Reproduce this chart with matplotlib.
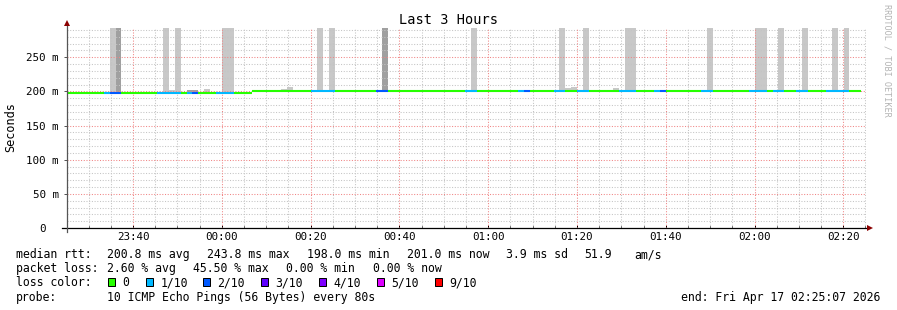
import matplotlib
matplotlib.use("Agg")
import matplotlib.pyplot as plt
import numpy as np
from matplotlib.patches import Rectangle
from matplotlib.lines import Line2D
from matplotlib.transforms import ScaledTranslation

# ---------------- data ----------------
START_LABEL = "23:25:07"          # left edge of the 3 hour window
WINDOW_MIN = 180
STEP_MIN = 80 / 60                # 80 s RRD step
FIRST_STEP_MIN = 8.27 - 7 * STEP_MIN   # start of first (partial) step, minutes after window start

# median rtt per 80 s step (ms)
median_ms = [
    198.3, 198.3, 198.3, 198.3, 198.3, 198.3, 198.3, 198.3, 198.3, 198.3, 198.3, 198.3, 198.3, 198.3, 198.3,
    198.0, 198.0, 198.0, 198.0, 198.0, 198.3, 198.3, 198.0, 198.0, 198.0, 198.0, 198.0, 198.0, 198.0, 198.0,
    198.0, 198.0, 201.0, 201.0, 201.0, 201.0, 201.0, 201.0, 201.0, 201.0, 201.0, 201.0, 201.0, 201.0, 201.0,
    201.0, 201.0, 201.0, 201.0, 201.0, 201.0, 201.0, 201.0, 201.0, 201.0, 201.0, 201.0, 201.0, 201.0, 201.0,
    201.0, 201.0, 201.0, 201.0, 201.0, 201.0, 201.0, 201.0, 201.0, 201.0, 201.0, 201.0, 201.0, 201.0, 201.0,
    201.0, 201.0, 201.0, 201.0, 201.0, 201.0, 201.0, 201.0, 201.0, 201.0, 201.0, 201.0, 201.0, 201.0, 201.0,
    201.0, 201.0, 201.0, 201.0, 201.0, 201.0, 201.0, 201.0, 201.0, 201.0, 201.0, 201.0, 201.0, 201.0, 201.0,
    201.0, 201.0, 201.0, 201.0, 201.0, 201.0, 201.0, 201.0, 201.0, 201.0, 201.0, 201.0, 201.0, 201.0, 201.0,
    201.0, 201.0, 201.0, 201.0, 201.0, 201.0, 201.0, 201.0, 201.0, 201.0, 201.0, 201.0, 201.0, 201.0, 201.0,
]

# loss (tenths) colouring the median line per step
loss_tenths = [
    0, 0, 0, 0, 0, 0, 0, 1, 2, 2, 0, 0, 0, 0, 0,
    0, 1, 1, 1, 1, 0, 1, 2, 0, 0, 0, 1, 1, 1, 0,
    0, 0, 0, 0, 0, 0, 0, 0, 0, 0, 0, 0, 1, 1, 1,
    1, 0, 0, 0, 0, 0, 0, 0, 2, 2, 0, 0, 0, 0, 0,
    0, 0, 0, 0, 0, 0, 0, 0, 1, 1, 0, 0, 0, 0, 0,
    0, 0, 1, 2, 0, 0, 0, 0, 1, 1, 0, 0, 1, 1, 0,
    0, 0, 0, 0, 1, 1, 1, 0, 0, 0, 1, 2, 0, 0, 0,
    0, 0, 0, 1, 1, 0, 0, 0, 0, 0, 0, 1, 1, 1, 0,
    1, 1, 0, 0, 1, 1, 0, 0, 0, 1, 1, 1, 1, 0, 0,
]

# smoke (ping spread) visible above the median: step index, top value (ms), grey level
smoke_step = [8, 9, 17, 18, 19, 21, 22, 24, 27, 28,
              37, 38, 43, 45, 54, 69, 84, 85, 86, 88,
              93, 95, 96, 109, 117, 118, 121, 125, 130, 132]
smoke_top_ms = [400, 400, 400, 202.1, 400, 202.6, 202.6, 204.1, 400, 400,
                204.1, 206.5, 400, 400, 400, 400, 400, 205.0, 206.5, 400,
                205.0, 400, 400, 400, 400, 400, 400, 400, 400, 400]
smoke_level = [1, 2, 1, 1, 1, 2, 2, 1, 1, 1,
               1, 1, 1, 1, 2, 1, 1, 1, 1, 1,
               1, 1, 1, 1, 1, 1, 1, 1, 1, 1]

x_tick_labels = ["23:40", "00:00", "00:20", "00:40", "01:00", "01:20", "01:40", "02:00", "02:20"]
y_ticks_ms = [0, 50, 100, 150, 200, 250]
y_tick_labels = ["0", "50 m", "100 m", "150 m", "200 m", "250 m"]
Y_TOP_MS = 292.9

loss_levels = [0, 1, 2, 3, 4, 5, 9]
loss_labels = ["0", "1/10", "2/10", "3/10", "4/10", "5/10", "9/10"]
loss_colors = ["#26ff00", "#00b8ff", "#0059ff", "#5e00ff", "#7e00ff", "#dd00ff", "#ff0000"]
smoke_colors = {1: "#c8c8c8", 2: "#a0a0a0"}

stat_rtt = ["200.8 ms avg", "243.8 ms max", "198.0 ms min", "201.0 ms now", "3.9 ms sd", "51.9", "am/s"]
stat_loss = ["2.60 % avg", "45.50 % max", "0.00 % min", "0.00 % now"]
probe_text = "10 ICMP Echo Pings (56 Bytes) every 80s"
end_text = "end: Fri Apr 17 02:25:07 2026"
title = "Last 3 Hours"

# ---------------- layout ----------------
W, H = 897, 310
MONO = "DejaVu Sans Mono"
plt.rcParams['font.family'] = [MONO]

def fx(px):
    return px / W

def fy(py):
    return 1 - py / H

X0, X1, YB, YT = 67, 866, 228, 28
fig = plt.figure(figsize=(W / 100, H / 100), dpi=100)
fig.patch.set_facecolor("white")
ax = fig.add_axes([fx(X0), fy(YB), (X1 - X0) / W, (YB - YT) / H])
ax.set_xlim(0, WINDOW_MIN)
ax.set_ylim(0, Y_TOP_MS)
for s in ax.spines.values():
    s.set_visible(False)

def to_min(label):
    h, m = label.split(":")[:2]
    sh, sm, ss = [int(v) for v in START_LABEL.split(":")]
    t = int(h) * 60 + int(m) - (sh * 60 + sm + ss / 60)
    return t % (24 * 60)

x_major = [to_min(l) for l in x_tick_labels]
x_minor_all = np.arange(x_major[0] - 10, WINDOW_MIN + 0.01, 5)
x_minor = [v for v in x_minor_all if min(abs(v - m) for m in x_major) > 0.5]
y_minor = [v for v in range(10, 292, 10) if v % 50 != 0]
ax.set_xticks(x_major)
ax.set_xticklabels(x_tick_labels)
ax.set_xticks(x_minor, minor=True)
ax.set_yticks(y_ticks_ms)
ax.set_yticklabels(y_tick_labels)
ax.set_yticks(y_minor, minor=True)

# grid (dotted, drawn over the smoke, under the median line)
dash = (0, (1.0, 1.6))
gkw = dict(linestyle=dash, linewidth=0.75, antialiased=True, snap=True, zorder=2)
for v in x_minor:
    ax.axvline(v, color="#c4c4c4", **gkw)
for v in y_minor:
    ax.axhline(v, color="#c4c4c4", **gkw)
for v in x_major:
    ax.axvline(v, color="#f08585", **gkw)
for v in y_ticks_ms[1:]:
    ax.axhline(v, color="#f08585", **gkw)

ax.tick_params(axis="x", which="major", direction="in", length=2.5, width=0.72, color="#000000",
               labelsize=7.8, pad=3.2)
ax.tick_params(axis="x", which="minor", direction="in", length=1.5, width=0.72, color="#000000")
ax.tick_params(axis="y", which="major", direction="out", length=2.2, width=0.72, color="#555555",
               labelsize=7.8, pad=3.8)
ax.tick_params(axis="y", which="minor", length=0)
zero_lab = ax.get_yticklabels()[0]
zero_lab.set_transform(zero_lab.get_transform() + ScaledTranslation(-0.13, 0, fig.dpi_scale_trans))

# smoke
n = len(median_ms)
starts = FIRST_STEP_MIN + STEP_MIN * np.arange(n)
med = np.array(median_ms)
sidx = np.array(smoke_step)
bottoms = med[sidx] - 1.0
heights = np.array(smoke_top_ms) - bottoms
ax.bar(starts[sidx], heights, bottom=bottoms, width=STEP_MIN, align="edge",
       color=[smoke_colors[l] for l in smoke_level], linewidth=0, antialiased=False, zorder=1)

# median line coloured by loss
cmap = dict(zip(loss_levels, loss_colors))
ax.hlines(med, starts, starts + STEP_MIN, colors=[cmap[l] for l in loss_tenths],
          linewidth=1.5, zorder=3, capstyle="butt")

# axis lines with arrows
ax.add_line(Line2D([-5 / 799, 1.003], [0, 0], transform=ax.transAxes, color="#000000",
                   linewidth=0.9, clip_on=False, zorder=4))
ax.add_line(Line2D([0, 0], [-4 / 200, 1.02], transform=ax.transAxes, color="#555555",
                   linewidth=0.9, clip_on=False, zorder=4))
ax.plot([1.0055], [0], marker=">", markersize=4.2, color="#8b0000", transform=ax.transAxes,
        clip_on=False, zorder=5, markeredgewidth=0)
ax.plot([0], [1.0235], marker="^", markersize=4.2, color="#8b0000", transform=ax.transAxes,
        clip_on=False, zorder=5, markeredgewidth=0)

# texts
fig.text(fx(448), fy(24), title, ha="center", va="baseline", fontsize=9.8, family=MONO)
fig.text(fx(11), fy(127.5), "Seconds", rotation=90, ha="center", va="center", fontsize=8.6, family=MONO)
fig.text(fx(886.7), fy(60), "RRDTOOL / TOBI OETIKER", rotation=270, ha="center", va="center",
         fontsize=6.1, family=MONO, color="#b4b4b4")

LS = 8.3
rows = [258.3, 272.3, 286.3, 300.5]
fig.text(fx(16), fy(rows[0]), "median rtt:", fontsize=LS, va="baseline")
for txt, xp in zip(stat_rtt, [107.3, 207.3, 306.7, 407.3, 506.3, 584.6, 634.3]):
    fig.text(fx(xp), fy(rows[0]), txt, fontsize=LS, va="baseline")
fig.text(fx(16), fy(rows[1]), "packet loss:", fontsize=LS, va="baseline")
for txt, xp in zip(stat_loss, [107.3, 192.7, 285.7, 372.7]):
    fig.text(fx(xp), fy(rows[1]), txt, fontsize=LS, va="baseline")
fig.text(fx(16), fy(rows[2]), "loss color:", fontsize=LS, va="baseline")
box_x = [108.3, 146.0, 203.3, 261.3, 319.3, 377.3, 435.3]
for lab, col, bx in zip(loss_labels, loss_colors, box_x):
    fig.patches.append(Rectangle((fx(bx), fy(286.3)), 7 / W, 8 / H, transform=fig.transFigure,
                                 facecolor=col, edgecolor="#000000", linewidth=0.72))
    fig.text(fx(bx + 14.3), fy(rows[2]), lab, fontsize=LS, va="baseline")
fig.text(fx(16), fy(rows[3]), "probe:", fontsize=LS, va="baseline")
fig.text(fx(107.3), fy(rows[3]), probe_text, fontsize=LS, va="baseline")
fig.text(fx(880), fy(rows[3]), end_text, fontsize=LS, va="baseline", ha="right")

fig.savefig("out.png", dpi=100, facecolor="white")
